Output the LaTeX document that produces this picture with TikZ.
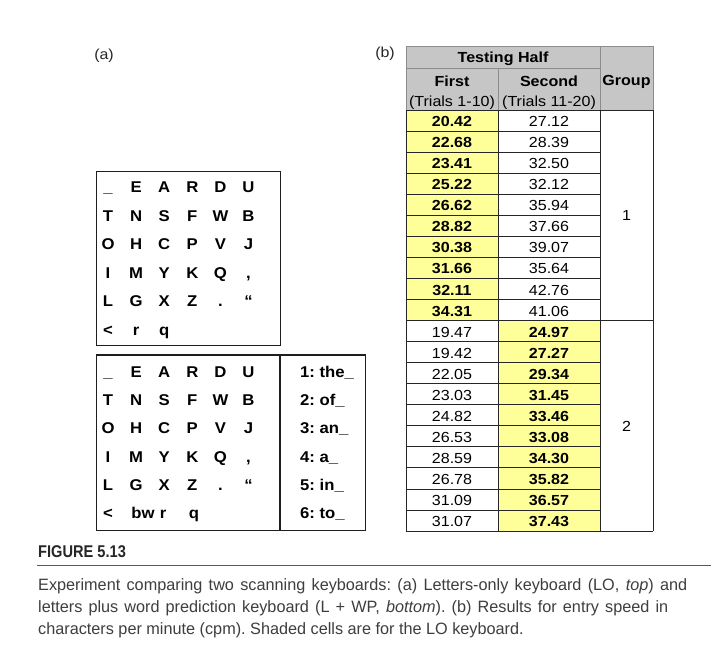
\documentclass[tikz,border=0pt]{standalone}
\usepackage{fontspec}
\setmainfont{Liberation Sans}
\newfontfamily\tabfont[FakeStretch=1.1]{Liberation Sans}
\newfontfamily\kbfont[FakeStretch=1.07]{Liberation Sans}
\newfontfamily\capfont[FakeStretch=0.99]{Liberation Sans}
\newfontfamily\figfont[FakeStretch=0.86]{Liberation Sans}
\definecolor{hdrgray}{RGB}{198,198,198}
\definecolor{cellyel}{RGB}{255,255,153}
\definecolor{captxt}{RGB}{62,62,62}
\definecolor{kbline}{RGB}{30,30,30}
\frenchspacing
\newcommand\kbrow[9]{%
  \node[kb] (#2a) at (108,#1) {#3};
  \node[kb] (#2b) at (136.1,#1) {#4};
  \node[kb] (#2c) at (164.2,#1) {#5};
  \node[kb] (#2d) at (192.3,#1) {#6};
  \node[kb] (#2e) at (220.4,#1) {#7};
  \node[kb] (#2f) at (248.5,#1) {#8};
  #9}
\begin{document}
\begin{tikzpicture}[x=1pt,y=-1pt,
  kb/.style={anchor=base,inner sep=0pt,font=\kbfont\fontsize{15.6}{17}\selectfont\bfseries,text=black},
  word/.style={anchor=base west,inner sep=0pt,font=\kbfont\fontsize{15.6}{17}\selectfont\bfseries,text=black},
  kbbox/.style={draw=kbline,line width=1.5pt},
  hdrline/.style={draw=black!45,line width=0.8pt},
  grid/.style={draw=black!85,line width=0.8pt},
  tnum/.style={anchor=base,inner sep=0pt,font=\tabfont\fontsize{14.6}{16}\selectfont,text=black},
  tbold/.style={tnum,font=\tabfont\fontsize{14.6}{16}\selectfont\bfseries},
  lbl/.style={inner sep=0pt,font=\tabfont\fontsize{14.5}{16}\selectfont,text=black!85},
  capline/.style={anchor=base west,inner sep=0pt,font=\capfont\fontsize{16.4}{18}\selectfont,text=captxt}
]
\useasboundingbox (0,0) rectangle (715,657);
\fill[white] (0,0) rectangle (715,657);

% labels
\node[lbl] (la) at (104,56) {(a)};
\node[lbl] (lb) at (385,54) {(b)};

% ---------- top keyboard (LO)
\draw[kbbox] (96.7,171.7) rectangle (280.7,345.7);
\kbrow{192.6}{t1}{\_}{E}{A}{R}{D}{U}{}
\kbrow{221.1}{t2}{T}{N}{S}{F}{W}{B}{}
\kbrow{249.6}{t3}{O}{H}{C}{P}{V}{J}{}
\kbrow{278.1}{t4}{I}{M}{Y}{K}{Q}{,}{}
\kbrow{306.6}{t5}{L}{G}{X}{Z}{.}{\textquotedblleft}{}
\node[kb] (t6a) at (108,335.1) {<};
\node[kb] (t6b) at (136.1,335.1) {r};
\node[kb] (t6c) at (164.2,335.1) {q};

% ---------- bottom keyboard (L+WP)
\draw[kbbox] (96.7,355) rectangle (365.7,530.3);
\draw[kbbox] (280,355) -- (280,530.3);
\kbrow{377.3}{b1}{\_}{E}{A}{R}{D}{U}{\node[word] (w1) at (300,377.3) {1: the\_};}
\kbrow{405.6}{b2}{T}{N}{S}{F}{W}{B}{\node[word] (w2) at (300,405.6) {2: of\_};}
\kbrow{433.9}{b3}{O}{H}{C}{P}{V}{J}{\node[word] (w3) at (300,433.9) {3: an\_};}
\kbrow{462.2}{b4}{I}{M}{Y}{K}{Q}{,}{\node[word] (w4) at (300,462.2) {4: a\_};}
\kbrow{490.5}{b5}{L}{G}{X}{Z}{.}{\textquotedblleft}{\node[word] (w5) at (300,490.5) {5: in\_};}
\node[kb] (b6a) at (108,518.8) {<};
\node[kb] (b6b) at (143,518.8) {bw};
\node[kb] (b6c) at (163,518.8) {r};
\node[kb] (b6d) at (194,518.8) {q};
\node[word] (w6) at (300,518.8) {6: to\_};

% ---------- table
\fill[hdrgray] (406,46) rectangle (653,110);
\fill[cellyel] (406,110) rectangle (498,320.5);
\fill[cellyel] (498,320.5) rectangle (600,531);
\draw[hdrline] (406,110) -- (406,46) -- (653,46) -- (653,110);
\draw[hdrline] (406,68) -- (600,68);
\draw[hdrline] (498,68) -- (498,110);
\draw[hdrline] (600,46) -- (600,110);
\foreach \k in {0,...,20} \draw[grid] (406,{110+21.05*\k}) -- (600,{110+21.05*\k});
\draw[grid] (600,110) -- (653,110);
\draw[grid] (600,320.5) -- (653,320.5);
\draw[grid] (600,531) -- (653,531);
\draw[grid] (406,110) -- (406,531);
\draw[grid] (498,110) -- (498,531);
\draw[grid] (600,110) -- (600,531);
\draw[grid] (653,110) -- (653,531);

\node[tbold] (th) at (503,62.7) {Testing Half};
\node[tbold] (h1) at (452,86.7) {First};
\node[tnum] (h1s) at (452,106) {(Trials 1-10)};
\node[tbold] (h2) at (549,86.7) {Second};
\node[tnum] (h2s) at (549,106) {(Trials 11-20)};
\node[tbold] (hg) at (626.5,85) {Group};

\foreach \a/\b [count=\k from 0] in {20.42/27.12,22.68/28.39,23.41/32.50,25.22/32.12,26.62/35.94,28.82/37.66,30.38/39.07,31.66/35.64,32.11/42.76,34.31/41.06}{
  \node[tbold] (f\k) at (452,{126.6+21.05*\k}) {\a};
  \node[tnum] (s\k) at (549,{126.6+21.05*\k}) {\b};
}
\foreach \a/\b [count=\k from 10] in {19.47/24.97,19.42/27.27,22.05/29.34,23.03/31.45,24.82/33.46,26.53/33.08,28.59/34.30,26.78/35.82,31.09/36.57,31.07/37.43}{
  \node[tnum] (f\k) at (452,{126.6+21.05*\k}) {\a};
  \node[tbold] (s\k) at (549,{126.6+21.05*\k}) {\b};
}
\node[tnum] (g1) at (626.5,220.5) {1};
\node[tnum] (g2) at (626.5,431.2) {2};

% ---------- caption
\node[anchor=base west,inner sep=0pt,font=\figfont\fontsize{17}{19}\selectfont\bfseries,text=black!85] (fig) at (38,557) {FIGURE 5.13};
\draw[black!65,line width=0.9pt] (37,565) -- (711,565);
\node[capline] (c1) at (38,590) {\makebox[649pt][s]{Experiment comparing two scanning keyboards: (a) Letters-only keyboard (LO, \textit{top}) and}};
\node[capline] (c2) at (38,612) {\makebox[630pt][s]{letters plus word prediction keyboard (L + WP, \textit{bottom}). (b) Results for entry speed in}};
\node[capline] (c3) at (38,634) {characters per minute (cpm). Shaded cells are for the LO keyboard.};
\end{tikzpicture}
\end{document}
